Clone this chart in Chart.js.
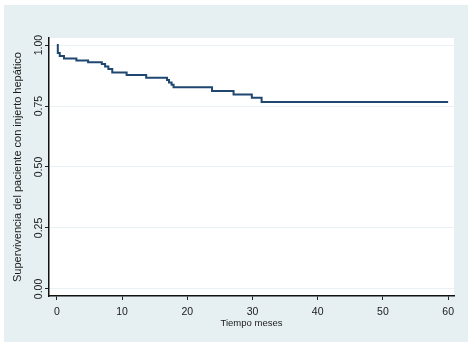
<!DOCTYPE html>
<html>
<head>
<meta charset="utf-8">
<script src="https://cdn.jsdelivr.net/npm/chart.js@4"></script>
<style>
  html, body { margin: 0; padding: 0; background: #fff; }
  #wrap { width: 475px; height: 348px; position: relative; }
</style>
</head>
<body>
<div id="wrap"><canvas id="chart_survival"></canvas></div>
<script>
// Kaplan-Meier estimate (months, survival)
var months = [0, 0.15, 0.45, 1.1, 3.0, 4.8, 6.9, 7.4, 7.9, 8.5, 10.7, 13.7, 16.9, 17.2, 17.6, 17.9, 23.8, 27.1, 29.9, 31.4, 60];
var survival = [1.000, 0.967, 0.955, 0.945, 0.937, 0.930, 0.922, 0.912, 0.902, 0.888, 0.877, 0.866, 0.857, 0.847, 0.837, 0.827, 0.812, 0.797, 0.784, 0.767, 0.767];
var xTicks = [0, 10, 20, 30, 40, 50, 60];
var yTicks = [0, 0.25, 0.5, 0.75, 1];

var points = months.map(function (m, i) { return { x: m, y: survival[i] }; });

var chart_survival = new Chart(document.getElementById('chart_survival'), {
    type: 'line',
    data: {
        datasets: [
            {
                label: 'Supervivencia',
                data: points,
                stepped: true,
                borderColor: '#1f4770',
                borderWidth: 2,
                pointRadius: 0,
                fill: false
            }
        ]
    },
    options: {
        animation: false,
        responsive: true,
        maintainAspectRatio: false,
        layout: {
            padding: { left: 0, top: 38, right: 21, bottom: 0 }
        },
        plugins: {
            legend: { display: false },
            tooltip: { enabled: false }
        },
        scales: {
            x: {
                type: 'linear',
                min: -1.2,
                max: 60.9,
                afterBuildTicks: function (scale) {
                    scale.ticks = xTicks.map(function (v) { return { value: v }; });
                },
                afterFit: function (scale) { scale.height = 52; },
                border: { color: '#111', width: 1.5 },
                grid: {
                    drawOnChartArea: false,
                    tickColor: '#222',
                    tickLength: 4,
                    tickWidth: 1
                },
                ticks: {
                    color: '#1a1a1a',
                    padding: 6,
                    maxRotation: 0,
                    font: { family: 'Liberation Sans', size: 10.5 }
                },
                title: {
                    display: true,
                    text: 'Tiempo meses',
                    color: '#1a1a1a',
                    padding: { top: 0, bottom: 19 },
                    font: { family: 'Liberation Sans', size: 9.5 }
                }
            },
            y: {
                type: 'linear',
                min: -0.029,
                max: 1.029,
                afterBuildTicks: function (scale) {
                    scale.ticks = yTicks.map(function (v) { return { value: v }; });
                },
                afterFit: function (scale) { scale.width = 49; },
                border: { color: '#111', width: 1.5 },
                grid: {
                    color: '#e9f1f4',
                    lineWidth: 1,
                    tickColor: '#222',
                    tickLength: 4
                },
                ticks: {
                    color: '#1a1a1a',
                    minRotation: 90,
                    maxRotation: 90,
                    crossAlign: 'center',
                    padding: -4,
                    font: { family: 'Liberation Sans', size: 10.5 },
                    callback: function (v) { return Number(v).toFixed(2); }
                },
                title: {
                    display: true,
                    text: 'Supervivencia del paciente con injerto hepático',
                    color: '#1a1a1a',
                    padding: { top: 11, bottom: 0 },
                    font: { family: 'Liberation Sans', size: 11 }
                }
            }
        }
    },
    plugins: [{
        id: 'panelBackground',
        beforeDraw: function (chart) {
            var ctx = chart.ctx;
            var a = chart.chartArea;
            ctx.save();
            ctx.fillStyle = '#ffffff';
            ctx.fillRect(0, 0, chart.width, chart.height);
            ctx.fillStyle = '#e6eff2';
            ctx.fillRect(4, 5, 464, 337);
            ctx.fillStyle = '#ffffff';
            ctx.fillRect(a.left, a.top, a.right - a.left, a.bottom - a.top);
            ctx.restore();
        }
    }]
});
</script>
</body>
</html>
